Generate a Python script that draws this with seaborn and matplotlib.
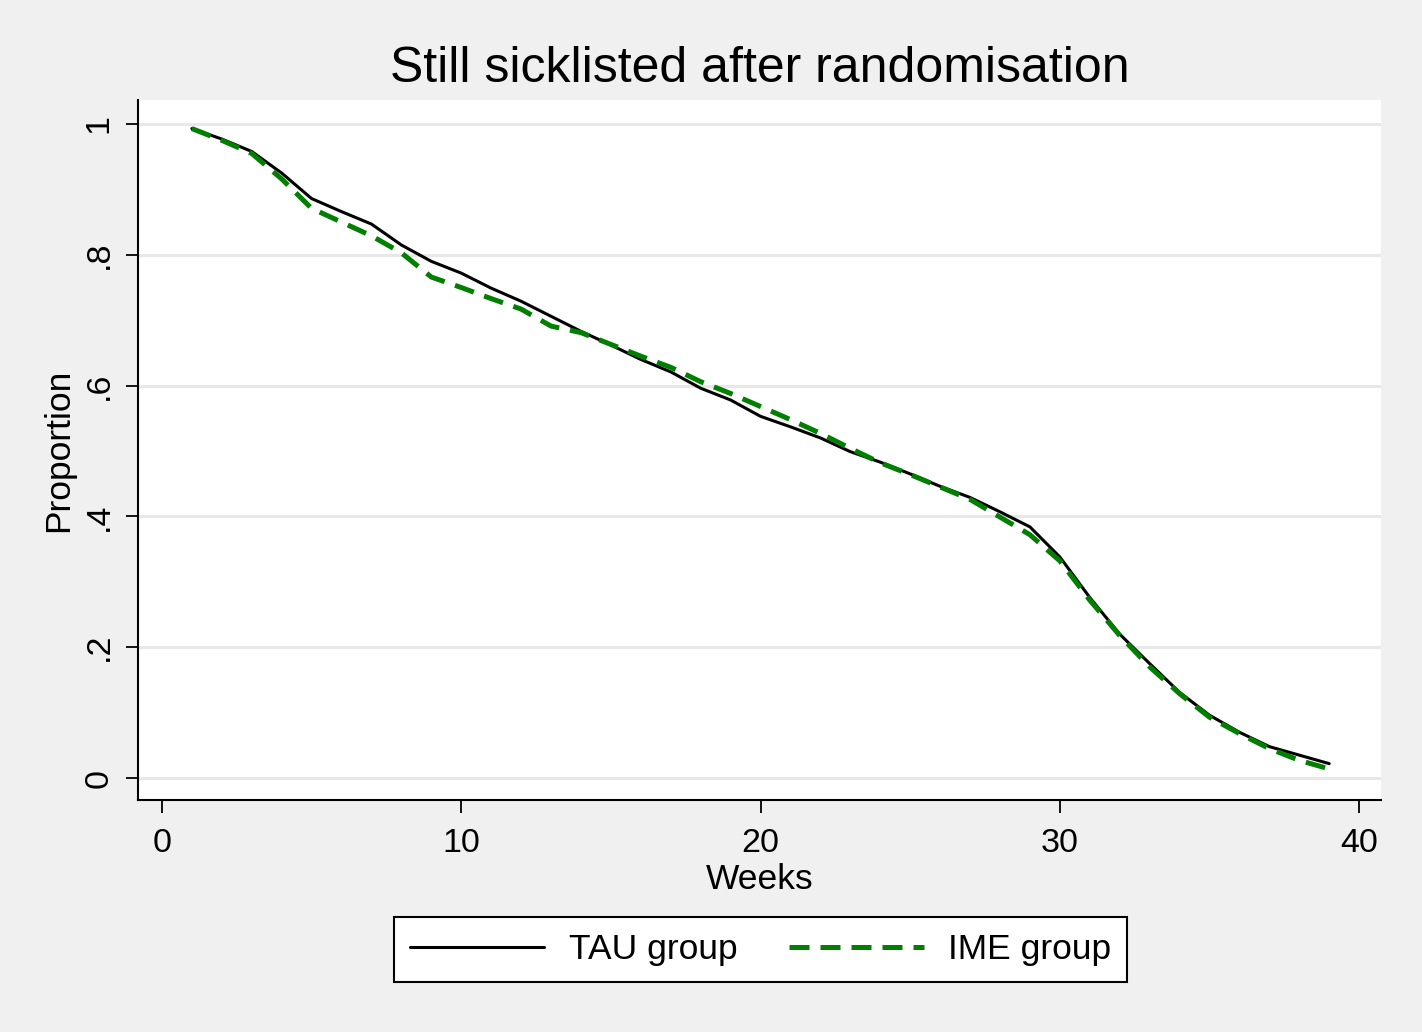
import matplotlib
matplotlib.use("Agg")
import matplotlib.pyplot as plt
import seaborn as sns
import pandas as pd

weeks = list(range(1, 40))
tau_group = [0.993, 0.977, 0.958, 0.925, 0.886, 0.866, 0.847, 0.815, 0.790, 0.772,
             0.749, 0.729, 0.706, 0.683, 0.662, 0.640, 0.621, 0.596, 0.578, 0.553,
             0.537, 0.520, 0.499, 0.483, 0.465, 0.446, 0.429, 0.407, 0.384, 0.338,
             0.276, 0.220, 0.175, 0.131, 0.096, 0.070, 0.048, 0.035, 0.022]
ime_group = [0.993, 0.975, 0.955, 0.916, 0.871, 0.850, 0.829, 0.803, 0.766, 0.750,
             0.733, 0.717, 0.691, 0.681, 0.663, 0.645, 0.628, 0.606, 0.588, 0.568,
             0.548, 0.527, 0.504, 0.482, 0.464, 0.445, 0.426, 0.399, 0.372, 0.332,
             0.272, 0.218, 0.170, 0.129, 0.093, 0.068, 0.045, 0.027, 0.014]
series_names = ["TAU group", "IME group"]
x_ticks = [0, 10, 20, 30, 40]
y_ticks = [0, 0.2, 0.4, 0.6, 0.8, 1.0]
y_tick_labels = ["0", ".2", ".4", ".6", ".8", "1"]

df = pd.DataFrame({
    "Weeks": weeks * 2,
    "Proportion": tau_group + ime_group,
    "group": [series_names[0]] * len(weeks) + [series_names[1]] * len(weeks),
})

sns.set_style("white")
plt.rcParams["font.family"] = ["Liberation Sans", "DejaVu Sans"]
plt.rcParams["text.color"] = "black"
plt.rcParams["axes.labelcolor"] = "black"
plt.rcParams["xtick.color"] = "black"
plt.rcParams["ytick.color"] = "black"

fig = plt.figure(figsize=(14.22, 10.32), dpi=100, facecolor="#f0f0f0")
ax = fig.add_axes([138 / 1422, 1 - 800 / 1032, (1381 - 138) / 1422, (800 - 100) / 1032])
ax.set_facecolor("white")

sns.lineplot(data=df[df.group == series_names[0]], x="Weeks", y="Proportion",
             color="black", linewidth=2.2, ax=ax, label=series_names[0])
sns.lineplot(data=df[df.group == series_names[1]], x="Weeks", y="Proportion",
             color="#007f00", linewidth=3.6, ax=ax, label=series_names[1],
             linestyle=(0, (4.0, 2.2)))

ax.set_xlim(-0.80, 40.73)
ax.set_ylim(-0.0336, 1.0367)
ax.set_xticks(x_ticks)
ax.set_yticks(y_ticks)
ax.set_yticklabels(y_tick_labels, rotation=90, va="center")
ax.grid(axis="y", color="#e8e8e8", linewidth=2.2)
ax.grid(axis="x", visible=False)
ax.set_axisbelow(True)

for s in ["top", "right"]:
    ax.spines[s].set_visible(False)
for s in ["left", "bottom"]:
    ax.spines[s].set_color("black")
    ax.spines[s].set_linewidth(1.5)

ax.tick_params(axis="both", which="major", direction="out", length=9, width=1.3,
               colors="black", labelsize=24.5, left=True, bottom=True)
ax.tick_params(axis="x", pad=11)
ax.tick_params(axis="y", pad=8)

ax.set_xlabel("Weeks", fontsize=25.5, labelpad=3)
ax.set_ylabel("Proportion", fontsize=25.5, labelpad=6)
ax.set_title("Still sicklisted after randomisation", fontsize=36, pad=13)

leg = ax.legend(loc="center", bbox_to_anchor=(760.5 / 1422, 1 - 949.5 / 1032),
                bbox_transform=fig.transFigure, ncol=2, fontsize=25.5, frameon=True,
                fancybox=False, edgecolor="black", handlelength=3.8,
                handletextpad=0.7, columnspacing=1.45, borderpad=0.45)
leg.get_frame().set_linewidth(1.5)
leg.get_frame().set_facecolor("white")
leg.get_frame().set_alpha(1)

fig.savefig("out.png", dpi=100, facecolor=fig.get_facecolor())
